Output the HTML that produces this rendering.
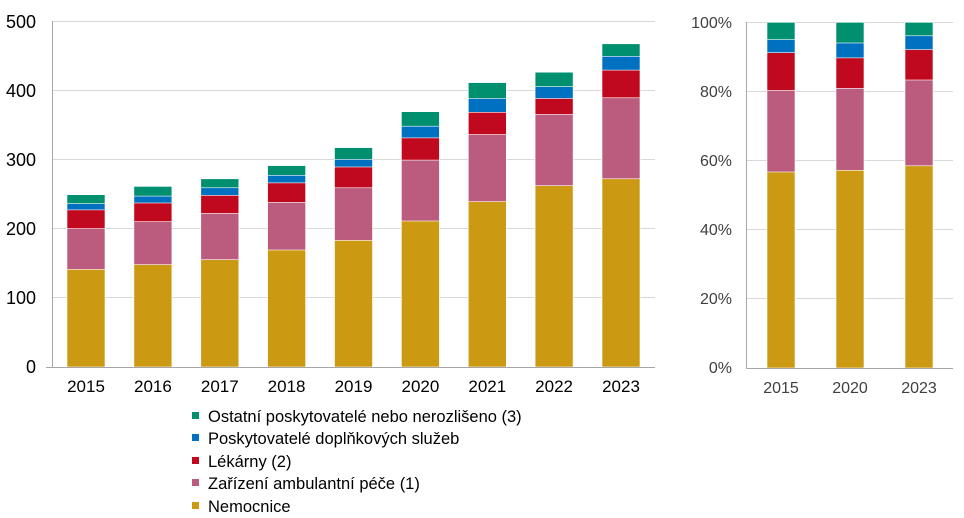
<!DOCTYPE html>
<html><head><meta charset="utf-8"><style>
html,body{margin:0;padding:0;background:#fff;}
svg{display:block;font-family:"Liberation Sans",Arial,sans-serif;}
</style></head><body>
<svg width="964" height="518" viewBox="0 0 964 518" xmlns="http://www.w3.org/2000/svg">
<g stroke="#d9d9d9" stroke-width="1">
<line x1="52" x2="655" y1="21.5" y2="21.5"/><line x1="52" x2="655" y1="90.5" y2="90.5"/><line x1="52" x2="655" y1="159.5" y2="159.5"/><line x1="52" x2="655" y1="228.5" y2="228.5"/><line x1="52" x2="655" y1="297.5" y2="297.5"/>
<line x1="746" x2="953" y1="22.5" y2="22.5"/><line x1="746" x2="953" y1="91.5" y2="91.5"/><line x1="746" x2="953" y1="160.5" y2="160.5"/><line x1="746" x2="953" y1="229.5" y2="229.5"/><line x1="746" x2="953" y1="298.5" y2="298.5"/>
</g>
<g font-size="18" fill="#000" text-anchor="end">
<text x="36" y="28">500</text><text x="36" y="97">400</text><text x="36" y="166">300</text><text x="36" y="235">200</text><text x="36" y="304">100</text><text x="36" y="373">0</text>
</g>
<g font-size="16" fill="#404040" text-anchor="end">
<text x="732" y="28">100%</text><text x="732" y="97">80%</text><text x="732" y="166">60%</text><text x="732" y="235">40%</text><text x="732" y="304">20%</text><text x="732" y="373">0%</text>
</g>
<g stroke="#fff" stroke-width="0.6">
<g fill="#009070"><rect x="67" y="194.7" width="38" height="172.3"/><rect x="133.9" y="186.4" width="38" height="180.6"/><rect x="200.8" y="178.8" width="38" height="188.2"/><rect x="267.6" y="165.6" width="38" height="201.4"/><rect x="334.5" y="147.6" width="38" height="219.4"/><rect x="401.4" y="111.7" width="38" height="255.3"/><rect x="468.3" y="82.6" width="38" height="284.4"/><rect x="535.1" y="72.2" width="38" height="294.8"/><rect x="602" y="43.8" width="38" height="323.2"/></g>
<g fill="#0070c0"><rect x="67" y="203.7" width="38" height="163.3"/><rect x="133.9" y="196.1" width="38" height="170.9"/><rect x="200.8" y="187.8" width="38" height="179.2"/><rect x="267.6" y="175.3" width="38" height="191.7"/><rect x="334.5" y="159.4" width="38" height="207.6"/><rect x="401.4" y="126.2" width="38" height="240.8"/><rect x="468.3" y="98.5" width="38" height="268.5"/><rect x="535.1" y="86.7" width="38" height="280.3"/><rect x="602" y="56.3" width="38" height="310.7"/></g>
<g fill="#c0091e"><rect x="67" y="209.9" width="38" height="157.1"/><rect x="133.9" y="203" width="38" height="164"/><rect x="200.8" y="195.4" width="38" height="171.6"/><rect x="267.6" y="182.9" width="38" height="184.1"/><rect x="334.5" y="167" width="38" height="200"/><rect x="401.4" y="137.9" width="38" height="229.1"/><rect x="468.3" y="112.3" width="38" height="254.7"/><rect x="535.1" y="98.5" width="38" height="268.5"/><rect x="602" y="70.1" width="38" height="296.9"/></g>
<g fill="#bb5b7e"><rect x="67" y="228.6" width="38" height="138.4"/><rect x="133.9" y="221.7" width="38" height="145.3"/><rect x="200.8" y="213.4" width="38" height="153.6"/><rect x="267.6" y="202.3" width="38" height="164.7"/><rect x="334.5" y="187.8" width="38" height="179.2"/><rect x="401.4" y="160.1" width="38" height="206.9"/><rect x="468.3" y="134.5" width="38" height="232.5"/><rect x="535.1" y="114.4" width="38" height="252.6"/><rect x="602" y="97.8" width="38" height="269.2"/></g>
<g fill="#cc9912"><rect x="67" y="269.4" width="38" height="97.6"/><rect x="133.9" y="264.6" width="38" height="102.4"/><rect x="200.8" y="259.7" width="38" height="107.3"/><rect x="267.6" y="250" width="38" height="117"/><rect x="334.5" y="240.4" width="38" height="126.6"/><rect x="401.4" y="221" width="38" height="146"/><rect x="468.3" y="201.6" width="38" height="165.4"/><rect x="535.1" y="185.7" width="38" height="181.3"/><rect x="602" y="178.8" width="38" height="188.2"/></g>
<g fill="#009070"><rect x="767" y="22.3" width="28" height="345.7"/><rect x="836" y="22.3" width="28" height="345.7"/><rect x="905" y="22.3" width="28" height="345.7"/></g>
<g fill="#0070c0"><rect x="767" y="39.6" width="28" height="328.4"/><rect x="836" y="43" width="28" height="325"/><rect x="905" y="35.8" width="28" height="332.2"/></g>
<g fill="#c0091e"><rect x="767" y="52.7" width="28" height="315.3"/><rect x="836" y="57.9" width="28" height="310.1"/><rect x="905" y="49.6" width="28" height="318.4"/></g>
<g fill="#bb5b7e"><rect x="767" y="90.4" width="28" height="277.6"/><rect x="836" y="88.3" width="28" height="279.7"/><rect x="905" y="80" width="28" height="288"/></g>
<g fill="#cc9912"><rect x="767" y="172" width="28" height="196"/><rect x="836" y="170.3" width="28" height="197.7"/><rect x="905" y="165.8" width="28" height="202.2"/></g>
</g>
<g stroke="#a6a6a6" stroke-width="1">
<line x1="52.5" x2="52.5" y1="21" y2="367"/><line x1="46" x2="655" y1="367.5" y2="367.5"/>
<line x1="746.5" x2="746.5" y1="22" y2="368"/><line x1="746" x2="953" y1="368.5" y2="368.5"/>
</g>
<g font-size="17" fill="#000" text-anchor="middle">
<text x="86" y="392">2015</text><text x="152.9" y="392">2016</text><text x="219.8" y="392">2017</text><text x="286.6" y="392">2018</text><text x="353.5" y="392">2019</text><text x="420.4" y="392">2020</text><text x="487.3" y="392">2021</text><text x="554.1" y="392">2022</text><text x="621" y="392">2023</text>
</g>
<g font-size="16" fill="#404040" text-anchor="middle">
<text x="781" y="393">2015</text><text x="850" y="393">2020</text><text x="919" y="393">2023</text>
</g>
<g font-size="16.5" fill="#000">
<rect x="192" y="412" width="7" height="7" fill="#009070"/><text x="208" y="422">Ostatní poskytovatelé nebo nerozlišeno (3)</text>
<rect x="192" y="434" width="7" height="7" fill="#0070c0"/><text x="208" y="444">Poskytovatelé doplňkových služeb</text>
<rect x="192" y="457" width="7" height="7" fill="#c0091e"/><text x="208" y="467">Lékárny (2)</text>
<rect x="192" y="479" width="7" height="7" fill="#bb5b7e"/><text x="208" y="489">Zařízení ambulantní péče (1)</text>
<rect x="192" y="502" width="7" height="7" fill="#cc9912"/><text x="208" y="512">Nemocnice</text>
</g>
</svg>
</body></html>
